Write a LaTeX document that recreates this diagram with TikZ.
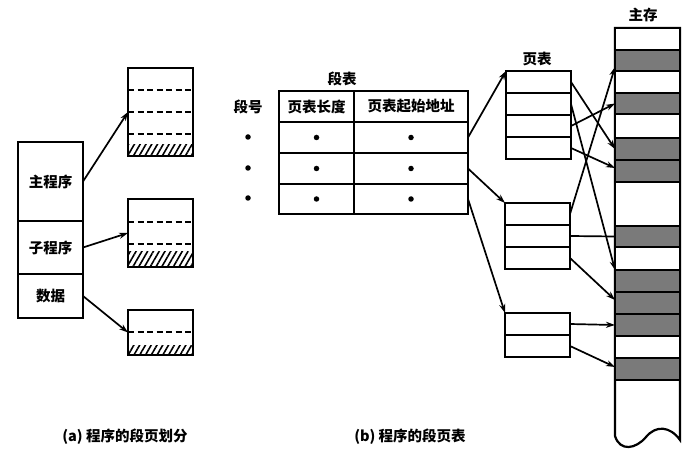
\documentclass[tikz,border=0pt]{standalone}
\usepackage{fontspec}
\newfontfamily\cjk{Noto Sans CJK SC}
\usetikzlibrary{arrows.meta,patterns.meta,calc}
\begin{document}
\begin{tikzpicture}[x=1pt,y=-1pt,
  font=\cjk\bfseries\fontsize{14.5}{16}\selectfont,
  box/.style={draw, line width=2.2pt, inner sep=0pt, outer sep=0pt, anchor=north west},
  conn/.style={line width=1.7pt, -{Stealth[length=9pt,width=6pt]}},
  plainconn/.style={line width=1.7pt},
  gband/.style={box, fill=black!52, minimum width=65pt},
  wband/.style={box, fill=white, minimum width=65pt},
  dashline/.style={line width=2pt, dash pattern=on 6pt off 3.5pt},
  hatch/.style={pattern={Lines[angle=60,distance=5pt,line width=1.6pt]}},
  dot/.style={circle, fill, inner sep=0pt, minimum size=5.5pt},
  lbl/.style={inner sep=1pt}
]
\fill[white] (0,0) rectangle (699,457);
\useasboundingbox (0,0) rectangle (699,457);

% ---------- (a) ----------
\node[box, minimum width=65pt, minimum height=79pt] (mainp) at (18,142) {主程序};
\node[box, minimum width=65pt, minimum height=53pt] (subp) at (18,221) {子程序};
\node[box, minimum width=65pt, minimum height=44pt] (datap) at (18,274) {数据};

\path[hatch] (128,145) rectangle (193,156);
\path[hatch] (128,252) rectangle (193,267);
\path[hatch] (128,345) rectangle (193,355);
\node[box, minimum width=65pt, minimum height=88pt] (pa1) at (128,68) {};
\node[box, minimum width=65pt, minimum height=68pt] (pa2) at (128,199) {};
\node[box, minimum width=65pt, minimum height=45pt] (pa3) at (128,310) {};
\foreach \yy in {90,112,134} \draw[dashline] (pa1.west |- 0,\yy) -- (pa1.east |- 0,\yy);
\foreach \yy in {222,244} \draw[dashline] (pa2.west |- 0,\yy) -- (pa2.east |- 0,\yy);
\draw[dashline] (pa3.west |- 0,332) -- (pa3.east |- 0,332);

\draw[conn] (mainp.east) -- (pa1.west);
\draw[conn] (subp.east) -- (pa2.west);
\draw[conn] (datap.east) -- (pa3.west);

\node[lbl] (capa) at (125,437) {(a) 程序的段页划分};

% ---------- (b) segment table ----------
\node[lbl] (stlabel) at (342,79) {段表};
\node[lbl] (snlabel) at (248,107) {段号};
\node[box, minimum width=75pt, minimum height=31pt] (h1) at (279,91) {页表长度};
\node[box, minimum width=114pt, minimum height=31pt] (h2) at (354,91) {页表起始地址};
\node[box, minimum width=75pt, minimum height=31pt] (r1a) at (279,122) {};
\node[box, minimum width=114pt, minimum height=31pt] (r1b) at (354,122) {};
\node[box, minimum width=75pt, minimum height=31pt] (r2a) at (279,153) {};
\node[box, minimum width=114pt, minimum height=31pt] (r2b) at (354,153) {};
\node[box, minimum width=75pt, minimum height=30pt] (r3a) at (279,184) {};
\node[box, minimum width=114pt, minimum height=30pt] (r3b) at (354,184) {};
\foreach \r in {r1a,r1b,r2a,r2b,r3a,r3b} \node[dot] at (\r) {};
\node[dot] (sn1) at (248,137) {};
\node[dot] (sn2) at (248,168) {};
\node[dot] (sn3) at (248,198) {};

% ---------- page tables ----------
\node[lbl] (ptlabel) at (537,59) {页表};
\node[box, minimum width=65pt, minimum height=22pt] (p1r1) at (506,71) {};
\node[box, minimum width=65pt, minimum height=22pt] (p1r2) at (506,93) {};
\node[box, minimum width=65pt, minimum height=22pt] (p1r3) at (506,115) {};
\node[box, minimum width=65pt, minimum height=22pt] (p1r4) at (506,137) {};

\node[box, minimum width=65pt, minimum height=22pt] (p2r1) at (505,203) {};
\node[box, minimum width=65pt, minimum height=22pt] (p2r2) at (505,225) {};
\node[box, minimum width=65pt, minimum height=22pt] (p2r3) at (505,247) {};

\node[box, minimum width=65pt, minimum height=22pt] (p3r1) at (505,313) {};
\node[box, minimum width=65pt, minimum height=22pt] (p3r2) at (505,335) {};

\draw[conn] (r1b.east) -- (p1r1.north west);
\draw[conn] (r2b.east) -- (p2r1.north west);
\draw[conn] (r3b.east) -- (p3r1.north west);

\node[lbl] (capb) at (410,437) {(b) 程序的段页表};

% ---------- main memory ----------
\node[lbl] (memlabel) at (643,15) {主存};
\draw[line width=2.2pt] (615,28) -- (615,436)
  .. controls (620,452) and (636,449) .. (646,437)
  .. controls (656,425) and (670,426) .. (680,440) -- (680,28) -- cycle;
\node[wband, minimum height=22pt] (w0) at (615,28) {};
\node[gband, minimum height=21pt] (g1) at (615,50) {};
\node[wband, minimum height=22pt] (w1) at (615,71) {};
\node[gband, minimum height=21pt] (g2) at (615,93) {};
\node[wband, minimum height=24pt] (w2) at (615,114) {};
\node[gband, minimum height=22pt] (g3) at (615,138) {};
\node[gband, minimum height=22pt] (g4) at (615,160) {};
\node[wband, minimum height=44pt] (w3) at (615,182) {};
\node[gband, minimum height=21pt] (g5) at (615,226) {};
\node[wband, minimum height=23pt] (w4) at (615,247) {};
\node[gband, minimum height=22pt] (g6) at (615,270) {};
\node[gband, minimum height=22pt] (g7) at (615,292) {};
\node[gband, minimum height=22pt] (g8) at (615,314) {};
\node[wband, minimum height=22pt] (w5) at (615,336) {};
\node[gband, minimum height=22pt] (g9) at (615,358) {};

% page table -> memory
\draw[conn] (p1r1.east) -- (g3.west);
\draw[conn] (p1r2.east) -- (g6.north west);
\draw[conn] (p1r3.east) -- (g2.west);
\draw[conn] (p1r4.east) -- ([yshift=3pt]g4.west);
\draw[conn] (p2r1.east) -- ([yshift=4pt]g1.south west);
\draw[plainconn] (p2r2.east) -- (g5.west);
\draw[conn] (p2r3.east) -- ([yshift=3pt]g7.west);
\draw[conn] (p3r1.east) -- (g8.west);
\draw[conn] (p3r2.east) -- ([yshift=2pt]g9.west);
\end{tikzpicture}
\end{document}
